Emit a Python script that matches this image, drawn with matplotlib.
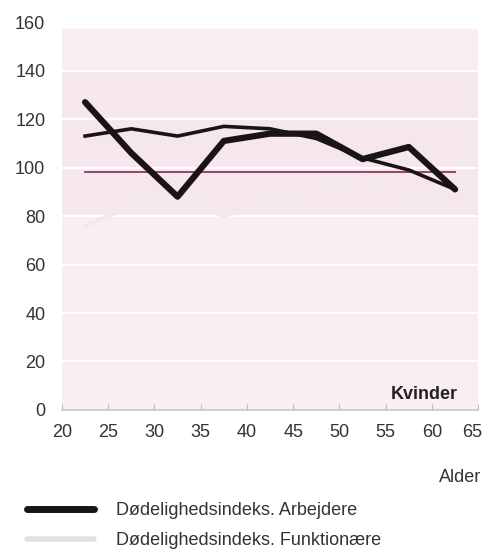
import matplotlib.pyplot as plt
import matplotlib.transforms as mtransforms
from matplotlib.lines import Line2D

# Aldersgrupper (midtpunkter)
alder = [22.5, 27.5, 32.5, 37.5, 42.5, 47.5, 52.5, 57.5, 62.5]
arbejdere = [127, 106, 88, 111, 114, 114, 103.5, 108.5, 91]
tynd_linje = [113, 116, 113, 117, 116, 112, 104, 99, 91]
funktionaere = [76, 84, 88, 80, 86, 90, 97, 86, 90]
reference = [98, 98, 98, 98, 98, 98, 98, 98, 98]

xticks = [20, 25, 30, 35, 40, 45, 50, 55, 60, 65]
yticks = [0, 20, 40, 60, 80, 100, 120, 140, 160]

plt.rcParams['font.family'] = ['Liberation Sans', 'DejaVu Sans']

fig = plt.figure(figsize=(4.84, 5.54), dpi=100)
ax = fig.add_axes([0.128, 0.26, 0.86, 0.70])
ax.set_facecolor('white')
ax.axhspan(0, 157, color='#faedf4', zorder=0)
ax.axhspan(80, 140, color='#f6e7ee', zorder=0)

for y in yticks[1:-1]:
    ax.axhline(y, color='white', lw=1.5, zorder=1)

ax.plot(alder, reference, color='#8a3a62', lw=1.3, zorder=2)
ax.plot(alder, funktionaere, color='#f0eaee', lw=3, zorder=3, solid_capstyle='round')
ax.plot(alder, tynd_linje, color='#1a1414', lw=2.6, zorder=4, solid_joinstyle='round')
ax.plot(alder, arbejdere, color='#1a1414', lw=4.5, zorder=5, solid_joinstyle='round',
        solid_capstyle='round')

ax.set_xlim(20, 65)
ax.set_ylim(0, 160)
ax.set_xticks(xticks)
ax.set_yticks(yticks)
ax.tick_params(axis='x', direction='in', length=4, color='#bbbbbb', labelsize=13,
               labelcolor='#333333', pad=10)
ax.tick_params(axis='y', length=0, labelsize=13, labelcolor='#333333', pad=12)

# keep the last x label inside the figure
last = ax.get_xticklabels()[-1]
last.set_transform(last.get_transform() +
                   mtransforms.ScaledTranslation(-6 / 100, 0, fig.dpi_scale_trans))

for s in ['top', 'right', 'left']:
    ax.spines[s].set_visible(False)
ax.spines['bottom'].set_color('#c8c8c8')
ax.spines['bottom'].set_linewidth(1.2)

ax.text(62.8, 3, 'Kvinder', fontsize=13, fontweight='bold', ha='right', va='bottom',
        color='#222222')

fig.text(0.994, 0.138, 'Alder', fontsize=13, ha='right', va='center', color='#333333')

handles = [Line2D([], [], color='#1a1414', lw=5, solid_capstyle='round'),
           Line2D([], [], color='#e2e2e2', lw=4, solid_capstyle='round')]
fig.legend(handles, ['Dødelighedsindeks. Arbejdere', 'Dødelighedsindeks. Funktionære'],
           loc='upper left', bbox_to_anchor=(0.03, 0.117), frameon=False,
           fontsize=13, handlelength=3.7, handletextpad=1.2, labelspacing=0.75,
           borderaxespad=0.3, labelcolor='#333333')

fig.savefig('out.png', dpi=100)
